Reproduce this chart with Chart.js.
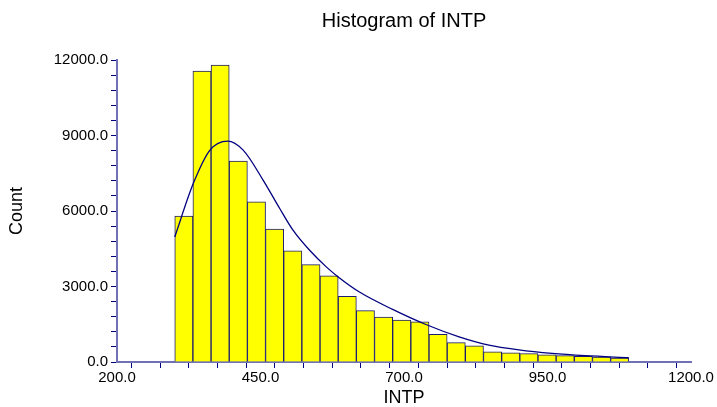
<!DOCTYPE html>
<html>
<head>
<meta charset="utf-8">
<script src="https://cdn.jsdelivr.net/npm/chart.js@4.4.0/dist/chart.umd.min.js"></script>
<style>
  html, body { margin: 0; padding: 0; background: #fff; }
  #wrap { width: 717px; height: 407px; }
</style>
</head>
<body>
<div id="wrap"><canvas id="histo"></canvas></div>
<script>
// histogram counts, one per bin
let binCounts = [5800, 11560, 11800, 7980, 6360, 5280, 4420, 3870, 3420, 2610,
                 2040, 1780, 1670, 1600, 1100, 770, 640, 400, 360, 330,
                 280, 255, 225, 200, 160];
let binStart = 300.6;
let binWidth = 31.64;

// fitted density curve
let curveX = [300.6, 333, 362, 392.7, 419.8, 454.5, 483.5, 506.6, 535.6, 564.6,
              585.4, 622.4, 680.2, 738.2, 796, 848, 900, 958, 1016, 1091.6];
let curveY = [4970, 7100, 8420, 8780, 8420, 7230, 6100, 5240, 4440, 3780,
              3380, 2780, 2090, 1490, 1000, 670, 480, 340, 250, 170];

// labelled ticks
let xTickLabels = [200, 450, 700, 950, 1200];
let yTickLabels = [0, 3000, 6000, 9000, 12000];

let barPoints = binCounts.map((c, i) => ({ x: binStart + binWidth * (i + 0.5), y: c }));
let curvePoints = curveX.map((x, i) => ({ x: x, y: curveY[i] }));

let axisFont = { family: 'Liberation Sans, Arial, sans-serif', size: 15 };
let titleFont = { family: 'Liberation Sans, Arial, sans-serif', size: 18, lineHeight: 1 };

let ctx = document.getElementById('histo').getContext('2d');
let histoChart = new Chart(ctx, {
  data: {
    datasets: [{
      type: 'line',
      data: curvePoints,
      borderColor: '#000080',
      borderWidth: 1.3,
      pointRadius: 0,
      cubicInterpolationMode: 'monotone',
      fill: false,
      order: 0
    }, {
      type: 'bar',
      data: barPoints,
      backgroundColor: '#ffff00',
      borderColor: '#1c1c70',
      borderWidth: 1,
      barPercentage: 1,
      categoryPercentage: 1,
      order: 1
    }]
  },
  options: {
    responsive: true,
    maintainAspectRatio: false,
    animation: false,
    layout: { padding: { left: 0, right: 26, top: 0, bottom: 0 } },
    plugins: {
      legend: { display: false },
      tooltip: { enabled: false },
      title: {
        display: true,
        text: 'Histogram of INTP',
        fullSize: false,
        color: '#000',
        font: { family: 'Liberation Sans, Arial, sans-serif', size: 20, weight: 'normal' },
        padding: { top: 9, bottom: 27 }
      }
    },
    scales: {
      x: {
        type: 'linear',
        min: 200,
        max: 1200,
        offset: false,
        afterFit: function(scale) { scale.height = 45; },
        ticks: {
          stepSize: 50,
          autoSkip: false,
          maxRotation: 0,
          padding: 1,
          color: '#000',
          font: axisFont,
          callback: v => xTickLabels.includes(v) ? v.toFixed(1) : ''
        },
        grid: { drawOnChartArea: false, drawTicks: true, tickLength: 6, color: '#000080' },
        border: { color: '#7070b4', width: 2 },
        title: { display: true, text: 'INTP', color: '#000', font: titleFont, padding: { top: 0, bottom: 0 } }
      },
      y: {
        min: 0,
        max: 12000,
        afterFit: function(scale) { scale.width = 117; },
        ticks: {
          stepSize: 600,
          autoSkip: false,
          padding: 3,
          color: '#000',
          font: axisFont,
          callback: v => yTickLabels.includes(v) ? v.toFixed(1) : ''
        },
        grid: { drawOnChartArea: false, drawTicks: true, tickLength: 6, color: '#000080' },
        border: { color: '#7070b4', width: 2 },
        title: { display: true, text: 'Count', color: '#000', font: titleFont, padding: { top: 8, bottom: 0 } }
      }
    }
  }
});
</script>
</body>
</html>
